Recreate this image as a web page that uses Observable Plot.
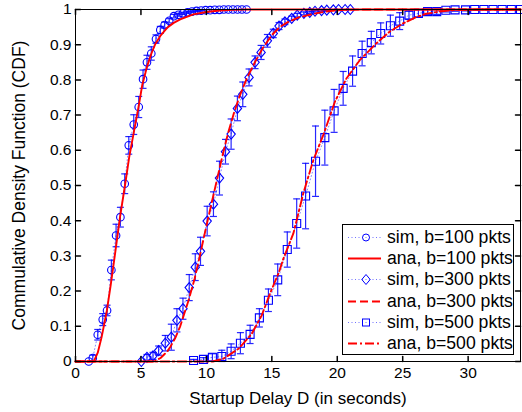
<!DOCTYPE html>
<html><head><meta charset="utf-8">
<script src="https://cdn.jsdelivr.net/npm/d3@7"></script>
<script src="https://cdn.jsdelivr.net/npm/@observablehq/plot@0.6"></script>
<style>
html,body{margin:0;padding:0;background:#fff;}
#wrap{position:relative;width:522px;height:412px;font-family:"Liberation Sans",Arial,Helvetica,sans-serif;overflow:hidden;}
#legend{position:absolute;left:342px;top:224px;width:170px;height:129px;border:1px solid #000;background:#fff;box-sizing:content-box;}
.row{position:absolute;left:0;height:21px;display:flex;align-items:center;font-size:17.5px;color:#000;white-space:nowrap;}
.row svg{display:block;margin-left:5px;margin-right:4px;flex:none;}
</style></head>
<body><div id="wrap"><div id="chart"></div><div id="legend"></div></div>
<script>
// ---- data ----
const xTicks = [0, 5, 10, 15, 20, 25, 30];
const yTicks = [0, 0.1, 0.2, 0.3, 0.4, 0.5, 0.6, 0.7, 0.8, 0.9, 1];
const xDomain = [0, 34];
const yDomain = [0, 1];

// simulation, b=100 pkts (circles)
const sim100X = [1.01,1.32,1.70,2.08,2.41,2.74,3.10,3.43,3.76,4.07,4.45,4.83,5.16,5.46,5.79,6.15,6.48,6.81,7.16,7.52,7.86,8.21,8.56,8.90,9.25,9.60,9.94,10.29,10.64,10.99,11.33,11.68,12.03,12.38,12.72,13.07];
const sim100P = [0,0.010,0.076,0.119,0.145,0.260,0.358,0.410,0.505,0.614,0.673,0.723,0.802,0.850,0.875,0.916,0.942,0.956,0.968,0.981,0.985,0.989,0.992,0.994,0.996,0.997,0.998,0.998,0.999,0.999,1,1,1,1,1,1];
const sim100E = [0,0.008,0.015,0.017,0.015,0.028,0.032,0.028,0.028,0.025,0.028,0.030,0.026,0.020,0.019,0.012,0.010,0.008,0.006,0.005,0.004,0.003,0.003,0.002,0.002,0.001,0,0,0,0,0,0,0,0,0,0];

// simulation, b=300 pkts (diamonds)
const sim300X = [5.03,5.46,5.92,6.35,6.86,7.32,7.75,8.21,8.69,9.15,9.55,10.06,10.54,11.00,11.46,11.89,12.37,12.78,13.26,13.72,14.18,14.66,15.11,15.55,16.00,16.52,16.94,17.45,17.90,18.30,18.80,19.20,19.70,20.10,20.60,21.00];
const sim300P = [0,0.012,0.016,0.031,0.052,0.069,0.117,0.150,0.210,0.268,0.313,0.399,0.447,0.521,0.596,0.646,0.719,0.759,0.807,0.850,0.878,0.911,0.932,0.953,0.965,0.975,0.984,0.989,0.992,0.995,0.997,0.998,0.999,1,1,1];
const sim300E = [0,0.008,0.010,0.013,0.022,0.037,0.033,0.030,0.037,0.038,0.040,0.042,0.035,0.048,0.035,0.043,0.035,0.035,0.024,0.018,0.020,0.018,0.012,0.010,0.008,0.006,0.005,0.004,0.003,0.002,0.002,0.001,0,0,0,0];

// simulation, b=500 pkts (squares)
const sim500X = [9.02,9.78,10.46,11.18,11.89,12.60,13.34,14.05,14.74,15.45,16.18,16.90,17.58,18.34,19.05,19.76,20.45,21.17,21.90,22.60,23.32,24.06,24.77,25.48,26.20,26.90,27.60,28.30,29.00,29.80,30.50,31.20,31.90,32.60,33.30,34.00];
const sim500P = [0.003,0.006,0.012,0.014,0.029,0.052,0.077,0.124,0.174,0.232,0.318,0.392,0.470,0.569,0.636,0.712,0.776,0.825,0.875,0.906,0.932,0.954,0.967,0.984,0.989,0.994,0.994,0.998,0.999,0.999,1,1,1,1,1,1];
const sim500E = [0.003,0.005,0.010,0.018,0.021,0.030,0.026,0.026,0.032,0.045,0.050,0.070,0.093,0.100,0.078,0.061,0.048,0.043,0.035,0.032,0.030,0.030,0.024,0.012,0.010,0.008,0.008,0.005,0.004,0.003,0.002,0.001,0,0,0,0];

// analytical curves
const ana100X = [0,1.4,1.7,2.0,2.4,2.7,3.0,3.4,3.8,4.1,4.45,4.8,5.1,5.46,5.8,6.1,6.48,7.0,7.5,8.0,9.0,10,11,12,13,34];
const ana100P = [0,0,0.025,0.07,0.145,0.22,0.30,0.41,0.505,0.58,0.65,0.72,0.785,0.837,0.875,0.902,0.925,0.948,0.962,0.972,0.986,0.993,0.997,0.999,1,1];
const ana300X = [0,6.0,6.5,7.0,7.24,7.6,8.0,8.64,9.1,9.5,10.0,10.4,10.8,11.2,11.68,12.1,12.57,13.1,13.72,14.3,14.99,15.6,16.26,17.0,17.78,18.5,19.3,20.5,22,34];
const ana300P = [0,0,0.01,0.028,0.041,0.065,0.10,0.174,0.235,0.30,0.385,0.45,0.515,0.58,0.652,0.705,0.757,0.805,0.851,0.89,0.927,0.95,0.965,0.977,0.984,0.99,0.995,0.999,1,1];
const ana500X = [0,10.5,11.3,12.45,13.47,14.23,14.86,15.55,15.88,16.64,17.4,18.17,18.93,19.82,20.7,21.72,22.99,24.0,25.0,26.0,26.8,28,29.1,31,34];
const ana500P = [0,0,0.008,0.036,0.079,0.131,0.193,0.254,0.292,0.363,0.477,0.572,0.643,0.738,0.804,0.856,0.904,0.937,0.96,0.978,0.988,0.995,0.999,1,1];

const legendLabels = ["sim, b=100 pkts","ana, b=100 pkts","sim, b=300 pkts","ana, b=300 pkts","sim, b=500 pkts","ana, b=500 pkts"];
const xLabel = "Startup Delay D (in seconds)";
const yLabel = "Commulative Density Function (CDF)";

// ---- styles ----
const BLUE = "#0000ff", RED = "#ff0000";
const dashes = {solid: null, dashed: "8,4", dashdot: "9,3,2,3"};
const symCircle = {draw(c){ c.moveTo(3.8,0); c.arc(0,0,3.8,0,2*Math.PI); }};
const symDiamond = {draw(c){ c.moveTo(0,-5); c.lineTo(4.2,0); c.lineTo(0,5); c.lineTo(-4.2,0); c.closePath(); }};
const symSquare = {draw(c){ c.rect(-4,-4,8,8); }};
const symCap = {draw(c){ c.moveTo(-3.5,0); c.lineTo(3.5,0); }};
const tickShape = {draw(c,l){ c.moveTo(0,0); c.lineTo(0,-l); }};

const zip = (xs, ps, es) => xs.map((x,i) => ({x, p: ps[i], e: es ? es[i] : 0}));
const sims = [
  {data: zip(sim100X, sim100P, sim100E), sym: symCircle},
  {data: zip(sim300X, sim300P, sim300E), sym: symDiamond},
  {data: zip(sim500X, sim500P, sim500E), sym: symSquare}
];
const anas = [
  {data: zip(ana100X, ana100P), dash: dashes.solid},
  {data: zip(ana300X, ana300P), dash: dashes.dashed},
  {data: zip(ana500X, ana500P), dash: dashes.dashdot}
];

const lo = d => Math.max(yDomain[0], d.p - d.e);
const hi = d => Math.min(yDomain[1], d.p + d.e);

const marks = [];
for (const s of sims) {
  const eb = s.data.filter(d => d.e > 0);
  marks.push(Plot.line(s.data, {x: "x", y: "p", stroke: BLUE, strokeWidth: 0.8, strokeDasharray: "1,2.5", strokeOpacity: 0.6}));
  marks.push(Plot.ruleX(eb, {x: "x", y1: lo, y2: hi, stroke: BLUE, strokeWidth: 1.2, strokeOpacity: 0.85}));
  marks.push(Plot.dot(eb, {x: "x", y: lo, symbol: symCap, stroke: BLUE, fill: "none", strokeWidth: 1.2, strokeOpacity: 0.85}));
  marks.push(Plot.dot(eb, {x: "x", y: hi, symbol: symCap, stroke: BLUE, fill: "none", strokeWidth: 1.2, strokeOpacity: 0.85}));
  marks.push(Plot.dot(s.data, {x: "x", y: "p", symbol: s.sym, stroke: BLUE, fill: "none", strokeWidth: 1.1}));
}
for (const a of anas) {
  marks.push(Plot.line(a.data, {x: "x", y: "p", stroke: RED, strokeWidth: 1.9, strokeDasharray: a.dash}));
}
marks.push(Plot.frame({stroke: "#000", strokeWidth: 1}));
// inward ticks on all four sides
marks.push(Plot.vector(xTicks, {x: d => d, y: yDomain[0], length: 5, rotate: 0, anchor: "start", shape: tickShape, stroke: "#000"}));
marks.push(Plot.vector(xTicks, {x: d => d, y: yDomain[1], length: 5, rotate: 180, anchor: "start", shape: tickShape, stroke: "#000"}));
marks.push(Plot.vector(yTicks, {x: xDomain[0], y: d => d, length: 5, rotate: 90, anchor: "start", shape: tickShape, stroke: "#000"}));
marks.push(Plot.vector(yTicks, {x: xDomain[1], y: d => d, length: 5, rotate: 270, anchor: "start", shape: tickShape, stroke: "#000"}));
// tick labels
marks.push(Plot.axisX(xTicks, {anchor: "bottom", tickSize: 0, tickPadding: 5, fontSize: 15.5, label: null, fill: "#000"}));
marks.push(Plot.axisY(yTicks, {anchor: "left", tickSize: 0, tickPadding: 4, fontSize: 15.5, label: null, fill: "#000", tickFormat: d => String(d)}));
// axis titles
marks.push(Plot.text([xLabel], {frameAnchor: "bottom", dy: 37, text: d => d, fontSize: 17, fill: "#000", textAnchor: "middle", lineAnchor: "middle"}));
marks.push(Plot.text([yLabel], {frameAnchor: "left", dx: -56.5, rotate: -90, text: d => d, fontSize: 17.5, fill: "#000", textAnchor: "middle", lineAnchor: "middle"}));

const chart = Plot.plot({
  width: 522, height: 412,
  marginLeft: 75, marginRight: 2, marginTop: 9, marginBottom: 51,
  style: {fontFamily: '"Liberation Sans", Arial, Helvetica, sans-serif', background: "#fff", color: "#000"},
  x: {domain: xDomain, axis: null},
  y: {domain: yDomain, axis: null},
  marks
});
document.getElementById("chart").appendChild(chart);

// legend (inside the axes, as in the original)
const leg = document.getElementById("legend");
const legSyms = [
  {kind: "sim", shape: "circle"}, {kind: "ana", dash: dashes.solid},
  {kind: "sim", shape: "diamond"}, {kind: "ana", dash: dashes.dashed},
  {kind: "sim", shape: "square"}, {kind: "ana", dash: dashes.dashdot}
];
const spans = [];
legendLabels.forEach((lab, i) => {
  const row = document.createElement("div");
  row.className = "row";
  row.style.top = (2 + i * 21.2) + "px";
  const s = legSyms[i];
  let inner;
  if (s.kind === "sim") {
    let m = "";
    if (s.shape === "circle") m = `<circle cx="18" cy="10.5" r="3.5" fill="none" stroke="${BLUE}"/>`;
    if (s.shape === "diamond") m = `<path d="M18,5.5L22.2,10.5L18,15.5L13.8,10.5Z" fill="none" stroke="${BLUE}"/>`;
    if (s.shape === "square") m = `<rect x="14.5" y="7" width="7" height="7" fill="none" stroke="${BLUE}"/>`;
    inner = `<line x1="0" x2="33" y1="10.5" y2="10.5" stroke="${BLUE}" stroke-width="0.8" stroke-dasharray="1,2.5" stroke-opacity="0.7"/>` + m;
  } else {
    inner = `<line x1="0" x2="33" y1="10.5" y2="10.5" stroke="${RED}" stroke-width="1.9" ${s.dash ? `stroke-dasharray="${s.dash}"` : ""}/>`;
  }
  row.innerHTML = `<svg width="35" height="21">${inner}</svg><span>${lab}</span>`;
  leg.appendChild(row);
  spans.push(row.querySelector("span"));
});
// fit legend text to the width it has in the original (about 124px)
const w0 = spans[0].getBoundingClientRect().width;
if (w0 > 0) {
  const fs = Math.min(22, 17.5 * 124 / w0);
  document.querySelectorAll(".row").forEach(r => r.style.fontSize = fs + "px");
}
</script>
</body></html>
